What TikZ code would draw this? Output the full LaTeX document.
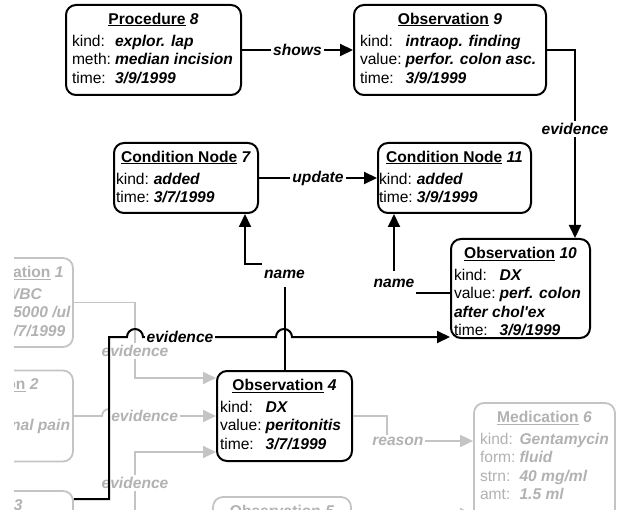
\documentclass[tikz,border=0pt]{standalone}
\usepackage{fontspec}
\setmainfont{Liberation Sans}
\usetikzlibrary{arrows.meta}

\definecolor{faintline}{RGB}{196,196,196}
\definecolor{fainttext}{RGB}{178,178,178}

% value text, card title, and card body (centred title over a two-column table)
\newcommand\vl[1]{\textbf{\textit{#1}}}
\newcommand\ttl[2]{\strut\underline{\textbf{#1}}~\textbf{\textit{#2}}}
\newcommand\cardbody[3]{%
  \begin{minipage}[t]{#1}%
    \centering #2\par
    \vspace{3.5pt}%
    \raggedright
    \begin{tabular}[t]{@{}l@{\hspace{4pt}}l@{}}#3\end{tabular}%
  \end{minipage}}

\tikzset{
  card/.style={draw, line width=2pt, rounded corners=10pt, fill=white, inner sep=0pt},
  faded/.style={draw=faintline, line width=1.8pt},
  cardtext/.style={inner sep=0pt, anchor=north, font=\fontsize{15.6}{18.5}\selectfont},
  fadetxt/.style={text=fainttext},
  link/.style={line width=2pt, -{Triangle[length=13pt,width=12pt]}},
  fadedlink/.style={link, line width=1.8pt, draw=faintline},
  lbl/.style={fill=white, inner sep=2pt, font=\fontsize{15.6}{18.5}\selectfont\bfseries\itshape},
  fadedlbl/.style={lbl, text=fainttext},
}

\begin{document}
\begin{tikzpicture}[x=1pt, y=-1pt]
\useasboundingbox (0,0) rectangle (617,510);
% the view ends a little inside the left border
\clip (14,0) rectangle (617,510);

% ---------- faded context records ----------
\node[card, faded, minimum width=123pt, minimum height=89pt] (o1) at (11.5,302.5) {};
\node[cardtext, fadetxt] (o1-t) at ([yshift=-7pt]o1.north)
  {\cardbody{115pt}{\ttl{Observation}{1}}{\hphantom{kind:}\kern5pt & \vl{WBC}\\ \hphantom{value:}\kern5pt & \vl{15000 /ul}\\ \hphantom{time:}\kern5pt & \vl{3/7/1999}}};

\node[card, faded, minimum width=173pt, minimum height=91pt] (o2) at (-13.5,416) {};
\node[cardtext, fadetxt] (o2-t) at ([yshift=-7pt]o2.north)
  {\cardbody{159pt}{\ttl{Observation}{2}}{\hphantom{kind:}\kern3pt & \\ \hphantom{value:}\kern3pt & \vl{abdominal pain}}};

\node[card, faded, minimum width=205pt, minimum height=91pt] (o3) at (-29.5,536.5) {};
\node[cardtext, fadetxt] (o3-t) at ([yshift=-7pt]o3.north) {\ttl{Observation}{3}};

\node[card, faded, minimum width=138pt, minimum height=90pt] (o5) at (282,542) {};
\node[cardtext, fadetxt] (o5-t) at ([yshift=-7pt]o5.north) {\ttl{Observation}{5}};

\node[card, faded, minimum width=141pt, minimum height=128pt] (o6) at (544.5,467) {};
\node[cardtext, fadetxt] (o6-t) at ([yshift=-7pt]o6.north)
  {\cardbody{129pt}{\ttl{Medication}{6}}{kind: & \vl{Gentamycin}\\ form: & \vl{fluid}\\ strn: & \vl{40 mg/ml}\\ amt: & \vl{1.5 ml}}};

% ---------- active records ----------
\node[card, minimum width=175pt, minimum height=90pt] (p8) at (153.5,50) {};
\node[cardtext] (p8-t) at ([yshift=-7pt]p8.north)
  {\cardbody{163pt}{\ttl{Procedure}{8}}{kind: & \vl{explor. lap}\\ meth: & \vl{median incision}\\ time: & \vl{3/9/1999}}};

\node[card, minimum width=192pt, minimum height=90pt] (o9) at (450,50) {};
\node[cardtext] (o9-t) at ([yshift=-7pt]o9.north)
  {\cardbody{180pt}{\ttl{Observation}{9}}{kind: & \vl{intraop. finding}\\ value: & \vl{perfor. colon asc.}\\ time: & \vl{3/9/1999}}};

\node[card, minimum width=144pt, minimum height=70pt] (c7) at (186,178) {};
\node[cardtext] (c7-t) at ([yshift=-7pt]c7.north)
  {\cardbody{140pt}{\ttl{Condition Node}{7}}{kind: & \vl{added}\\ time: & \vl{3/7/1999}}};

\node[card, minimum width=153pt, minimum height=70pt] (c11) at (454.5,178) {};
\node[cardtext] (c11-t) at ([yshift=-7pt]c11.north)
  {\cardbody{151pt}{\ttl{Condition Node}{11}}{kind: & \vl{added}\\ time: & \vl{3/9/1999}}};

\node[card, minimum width=139pt, minimum height=99pt] (o10) at (520.5,288.5) {};
\node[cardtext] (o10-t) at ([yshift=-7pt]o10.north)
  {\cardbody{133pt}{\ttl{Observation}{10}}{kind: & \vl{DX}\\ value: & \vl{perf. colon}\\ \multicolumn{2}{@{}l@{}}{\vl{after chol\textquotesingle ex}}\\ time: & \vl{3/9/1999}}};

\node[card, minimum width=135pt, minimum height=90pt] (o4) at (284.5,416) {};
\node[cardtext] (o4-t) at ([yshift=-7pt]o4.north)
  {\cardbody{129pt}{\ttl{Observation}{4}}{kind: & \vl{DX}\\ value: & \vl{peritonitis}\\ time: & \vl{3/7/1999}}};

% ---------- faded connectors ----------
\draw[fadedlink] (o1.east) -- (135,302.5) |- node[fadedlbl, pos=0.321] {evidence} ([yshift=38pt]o4.west);
\draw[fadedlink] (o2.east) -- (102,416) arc[start angle=180, end angle=0, radius=7pt]
  -- node[fadedlbl, pos=0.287] {evidence} (o4.west);
\draw[fadedlink] (o3.east) -- (135,536.5) |- node[fadedlbl, pos=0.317] {evidence} ([yshift=-36pt]o4.west);
\draw[fadedlink] (o4) -| (387,441) -- node[fadedlbl, pos=0.126] {reason} ([yshift=26pt]o6.west);
\draw[fadedlink] (o5.east |- 0,514) -- ([yshift=-47pt]o6.west);

% ---------- active connectors ----------
\draw[link] (p8) -- node[lbl] {shows} (o9);
\draw[link] (o9) -| node[lbl, pos=0.71] {evidence} ([xshift=54.5pt]o10.north);
\draw[link] (c7) -- node[lbl] {update} (c11);
\draw[link] ([yshift=-4.5pt]o10.west) -| node[lbl, minimum height=24pt, pos=0.5, yshift=10pt] {name} ([xshift=-60.5pt]c11.south);
\draw[link] (o4.north) |- node[lbl, minimum height=24pt, pos=0.449] {name} ([xshift=59pt,yshift=-50pt]c7.south) -- ([xshift=59pt]c7.south);
\draw[link] (o3.east |- 0,499) -| (109,337) -- (127,337) arc[start angle=180, end angle=0, radius=8pt]
  -- node[lbl, pos=0.278] {evidence} (276,337) arc[start angle=180, end angle=0, radius=8pt]
  -- ([yshift=-48.5pt]o10.west);
\end{tikzpicture}
\end{document}
